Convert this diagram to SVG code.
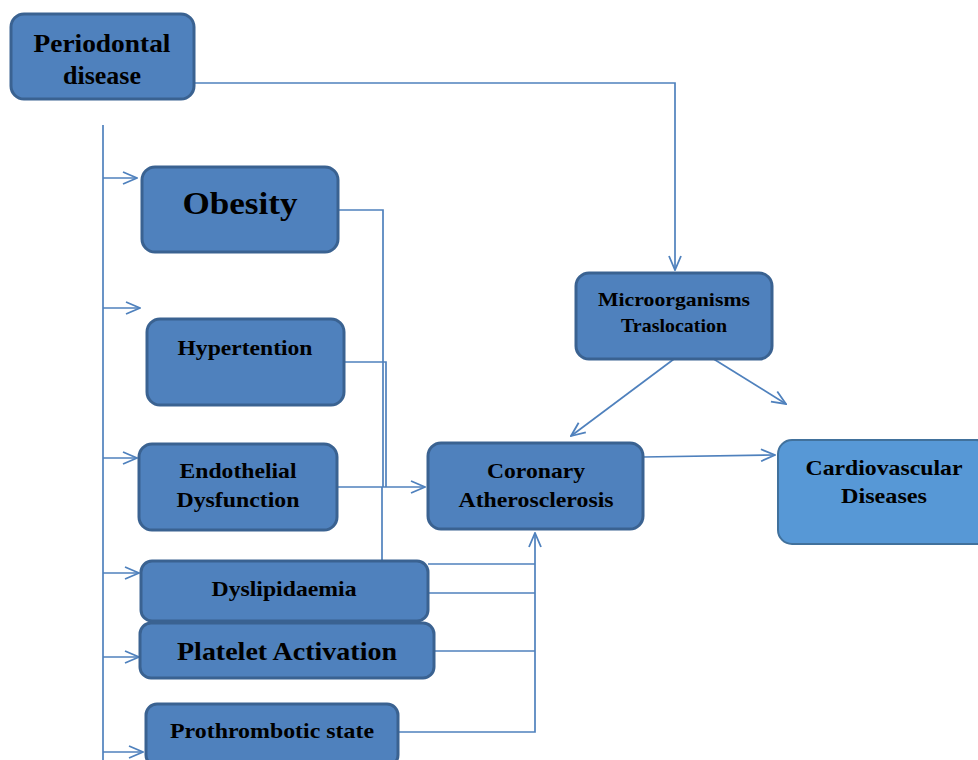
<svg xmlns="http://www.w3.org/2000/svg" width="978" height="760" viewBox="0 0 978 760">
<defs>
<style>
.box{fill:#4F81BD;stroke:#3A6291;stroke-width:3}
.box2{fill:#5798D6;stroke:#41719C;stroke-width:2}
.t{font-family:"Liberation Serif","Times New Roman",serif;font-weight:bold;fill:#000;text-anchor:middle}
.c{fill:none;stroke:#4F81BD;stroke-width:1.7}
</style>
<marker id="a" viewBox="0 0 16 16" refX="15" refY="8" markerWidth="16" markerHeight="16" markerUnits="userSpaceOnUse" orient="auto">
<path d="M1,2 L15,8 L1,14" fill="none" stroke="#4F81BD" stroke-width="1.8"/>
</marker>
</defs>
<rect width="978" height="760" fill="#fff"/>
<g id="connectors">
<path class="c" d="M194,83 H675 V270" marker-end="url(#a)"/>
<path class="c" d="M103,125 V760"/>
<path class="c" d="M103,178 H137" marker-end="url(#a)"/>
<path class="c" d="M103,308 H140" marker-end="url(#a)"/>
<path class="c" d="M103,458 H137" marker-end="url(#a)"/>
<path class="c" d="M103,573 H139" marker-end="url(#a)"/>
<path class="c" d="M103,657 H139" marker-end="url(#a)"/>
<path class="c" d="M103,752 H143" marker-end="url(#a)"/>
<path class="c" d="M338,210 H383 V487"/>
<path class="c" d="M344,362 H386 V487"/>
<path class="c" d="M382,563 V487"/>
<path class="c" d="M337,487 H425" marker-end="url(#a)"/>
<path class="c" d="M428,564 H535"/>
<path class="c" d="M428,593 H535"/>
<path class="c" d="M434,651 H535"/>
<path class="c" d="M398,732 H535 V533" marker-end="url(#a)"/>
<path class="c" d="M674,359 L571,436" marker-end="url(#a)"/>
<path class="c" d="M712,358 L786,404" marker-end="url(#a)"/>
<path class="c" d="M643,457 L775,455" marker-end="url(#a)"/>
</g>
<g id="periodontal">
<rect class="box" x="11" y="14" width="183" height="85" rx="13"/>
<text class="t" x="102" y="52" font-size="26" textLength="137" lengthAdjust="spacingAndGlyphs">Periodontal</text>
<text class="t" x="102" y="84" font-size="26">disease</text>
</g>
<g id="obesity">
<rect class="box" x="142" y="167" width="196" height="85" rx="13"/>
<text class="t" x="240" y="214" font-size="32" textLength="115" lengthAdjust="spacingAndGlyphs">Obesity</text>
</g>
<g id="hypertention">
<rect class="box" x="147" y="319" width="197" height="86" rx="13"/>
<text class="t" x="245" y="355" font-size="22" textLength="135" lengthAdjust="spacingAndGlyphs">Hypertention</text>
</g>
<g id="endothelial">
<rect class="box" x="139" y="444" width="198" height="86" rx="13"/>
<text class="t" x="238" y="478" font-size="22" textLength="117" lengthAdjust="spacingAndGlyphs">Endothelial</text>
<text class="t" x="238" y="507" font-size="22" textLength="123" lengthAdjust="spacingAndGlyphs">Dysfunction</text>
</g>
<g id="dyslipidaemia">
<rect class="box" x="141" y="561" width="287" height="60" rx="11"/>
<text class="t" x="284" y="596" font-size="22" textLength="145" lengthAdjust="spacingAndGlyphs">Dyslipidaemia</text>
</g>
<g id="platelet">
<rect class="box" x="140" y="623" width="294" height="55" rx="11"/>
<text class="t" x="287" y="660" font-size="25" textLength="220" lengthAdjust="spacingAndGlyphs">Platelet Activation</text>
</g>
<g id="prothrombotic">
<rect class="box" x="146" y="704" width="252" height="62" rx="11"/>
<text class="t" x="272" y="738" font-size="22" textLength="204" lengthAdjust="spacingAndGlyphs">Prothrombotic state</text>
</g>
<g id="coronary">
<rect class="box" x="428" y="443" width="215" height="86" rx="13"/>
<text class="t" x="536" y="478" font-size="22" textLength="98" lengthAdjust="spacingAndGlyphs">Coronary</text>
<text class="t" x="536" y="507" font-size="22" textLength="155" lengthAdjust="spacingAndGlyphs">Atherosclerosis</text>
</g>
<g id="microorganisms">
<rect class="box" x="576" y="273" width="196" height="86" rx="13"/>
<text class="t" x="674" y="306" font-size="19" textLength="152" lengthAdjust="spacingAndGlyphs">Microorganisms</text>
<text class="t" x="674" y="332" font-size="19" textLength="106" lengthAdjust="spacingAndGlyphs">Traslocation</text>
</g>
<g id="cardiovascular">
<rect class="box2" x="778" y="440" width="212" height="104" rx="14"/>
<text class="t" x="884" y="475" font-size="22" textLength="157" lengthAdjust="spacingAndGlyphs">Cardiovascular</text>
<text class="t" x="884" y="503" font-size="22" textLength="86" lengthAdjust="spacingAndGlyphs">Diseases</text>
</g>
</svg>
